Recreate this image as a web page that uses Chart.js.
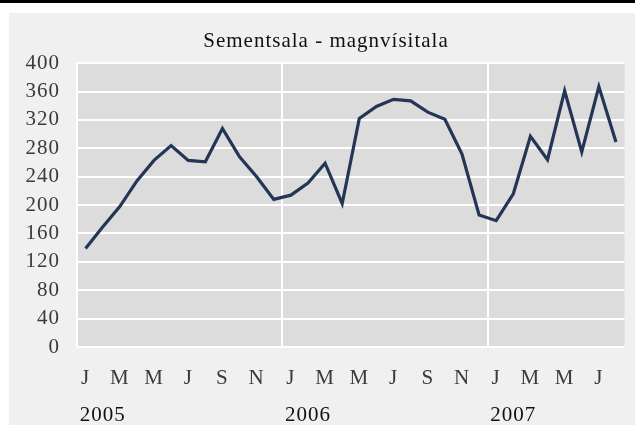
<!DOCTYPE html>
<html lang="is">
<head>
  <meta charset="UTF-8" />
  <title>Sementsala - magnvísitala</title>
  <script src="https://cdn.jsdelivr.net/npm/chart.js"></script>
  <style>
    body {
      margin: 0;
      background: #fff;
      width: 635px;
      height: 425px;
      position: relative;
      overflow: hidden;
    }
    .topbar {
      position: absolute;
      left: 0; top: 0;
      width: 635px; height: 3px;
      background: #000;
    }
    .frame {
      position: absolute;
      left: 9px; top: 13px;
      width: 626px; height: 412px;
      background: #f0f0f0;
    }
  </style>
</head>
<body>
  <div class="topbar"></div>
  <div class="frame"><canvas id="chart"></canvas></div>

  <script>
    // Jan 2005 - Aug 2007, monthly index values
    const months = ["J","F","M","A","M","J","J","Á","S","O","N","D",
                    "J","F","M","A","M","J","J","Á","S","O","N","D",
                    "J","F","M","A","M","J","J","Á"];
    const years = { 1: "2005", 13: "2006", 25: "2007" };
    const index = [139,169,198,234,263,284,263,261,308,268,240,208,
                   214,231,259,202,322,339,349,347,331,321,272,186,
                   178,216,297,264,361,275,367,289];
    const yearStarts = [0, 12, 24];

    const serif = "'Liberation Serif', 'Times New Roman', serif";

    // grey plot area + slightly loose text like the original
    const plotBg = {
      id: 'plotBg',
      beforeLayout(chart) { chart.ctx.letterSpacing = '1px'; },
      beforeDraw(chart) {
        const a = chart.chartArea, c = chart.ctx;
        c.letterSpacing = '1px';
        c.save();
        c.fillStyle = '#dcdcdc';
        c.fillRect(a.left, a.top, a.right - a.left, a.bottom - a.top);
        c.restore();
      }
    };

    new Chart(document.getElementById('chart'), {
      type: 'line',
      data: {
        labels: months,
        datasets: [{
          data: index,
          borderColor: '#243556',
          borderWidth: 3.2,
          pointRadius: 0,
          tension: 0,
          fill: false,
          xAxisID: 'x'
        }]
      },
      plugins: [plotBg],
      options: {
        responsive: true,
        maintainAspectRatio: false,
        animation: false,
        layout: { padding: { top: 0, right: 2, bottom: 0, left: 10 } },
        plugins: {
          legend: { display: false },
          tooltip: { enabled: false },
          title: {
            display: true,
            text: 'Sementsala - magnvísitala',
            color: '#111',
            font: { family: serif, size: 21, weight: 'normal' },
            padding: { top: 16, bottom: 9 }
          }
        },
        scales: {
          x: {
            type: 'category',
            offset: true,
            border: { display: false },
            grid: {
              offset: true,
              drawTicks: false,
              lineWidth: 2,
              color: (ctx) => yearStarts.includes(ctx.index) ? '#ffffff' : 'rgba(0,0,0,0)'
            },
            ticks: {
              autoSkip: false,
              maxRotation: 0,
              padding: 19,
              color: '#3a3a3a',
              font: { family: serif, size: 21 },
              callback: (v, i) => i % 2 === 0 ? months[i] : ''
            },
            afterFit: (s) => { s.height = 43; }
          },
          x2: {
            type: 'category',
            position: 'bottom',
            offset: true,
            border: { display: false },
            grid: { display: false, drawTicks: false },
            ticks: {
              autoSkip: false,
              maxRotation: 0,
              padding: 13,
              color: '#111',
              font: { family: serif, size: 21 },
              callback: (v, i) => years[i] || ''
            },
            afterFit: (s) => { s.height = 35; }
          },
          y: {
            min: 0,
            max: 400,
            border: { display: false },
            grid: { color: '#ffffff', lineWidth: 2, drawTicks: false },
            ticks: {
              stepSize: 40,
              autoSkip: false,
              padding: 17,
              color: '#3a3a3a',
              font: { family: serif, size: 21 }
            },
            afterFit: (s) => { s.width = 58; }
          }
        }
      }
    });
  </script>
</body>
</html>
